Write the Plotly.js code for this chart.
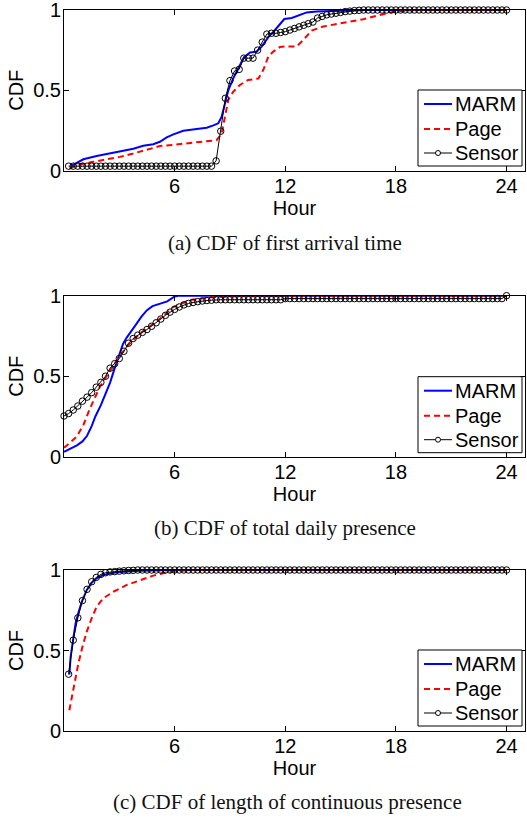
<!DOCTYPE html>
<html>
<head>
<meta charset="utf-8">
<script src="https://cdn.plot.ly/plotly-3.0.1.min.js"></script>
<style>html,body{margin:0;padding:0;background:#fff;}#chart{width:527px;height:821px;}</style>
</head>
<body>
<div id="chart"></div>
<script>
// ---------- data ----------
const seriesNames = ["MARM", "Page", "Sensor"];
const xTickVals = [6, 12, 18, 24];
const yTickVals = [0, 0.5, 1];
const yTickText = ["0", "0.5", "1"];
const captions = ["(a) CDF of first arrival time", "(b) CDF of total daily presence", "(c) CDF of length of continuous presence"];

// sensor sample hours (every 15 minutes)
const sensorHours = [0.25,0.5,0.75,1,1.25,1.5,1.75,2,2.25,2.5,2.75,3,3.25,3.5,3.75,4,4.25,4.5,4.75,5,5.25,5.5,5.75,6,
  6.25,6.5,6.75,7,7.25,7.5,7.75,8,8.25,8.5,8.75,9,9.25,9.5,9.75,10,10.25,10.5,10.75,11,11.25,11.5,11.75,12,
  12.25,12.5,12.75,13,13.25,13.5,13.75,14,14.25,14.5,14.75,15,15.25,15.5,15.75,16,16.25,16.5,16.75,17,17.25,17.5,17.75,18,
  18.25,18.5,18.75,19,19.25,19.5,19.75,20,20.25,20.5,20.75,21,21.25,21.5,21.75,22,22.25,22.5,22.75,23,23.25,23.5,23.75,24];
const sensorHoursB = [0,0.25,0.5,0.75,1,1.25,1.5,1.75,2,2.25,2.5,2.75,3,3.25,3.5,3.75,4,4.25,4.5,4.75,5,5.25,5.5,5.75,6,
  6.25,6.5,6.75,7,7.25,7.5,7.75,8,8.25,8.5,8.75,9,9.25,9.5,9.75,10,10.25,10.5,10.75,11,11.25,11.5,11.75,12,
  12.25,12.5,12.75,13,13.25,13.5,13.75,14,14.25,14.5,14.75,15,15.25,15.5,15.75,16,16.25,16.5,16.75,17,17.25,17.5,17.75,18,
  18.25,18.5,18.75,19,19.25,19.5,19.75,20,20.25,20.5,20.75,21,21.25,21.5,21.75,22,22.25,22.5,22.75,23,23.25,23.5,23.75,24];

// (a) first arrival time
const marmAHours = [0.42,1.05,1.77,2.5,3.22,3.76,4.3,4.84,5.2,5.57,5.93,6.47,7.2,7.74,8.1,8.37,8.55,8.73,8.91,9.18,9.45,9.76,10.09,10.45,10.72,11.08,11.35,11.71,11.95,12.35,12.8,13.16,13.7,14.6,16.4,24];
const marmACdf   = [0.03,0.07,0.09,0.106,0.123,0.135,0.154,0.164,0.179,0.206,0.225,0.248,0.258,0.266,0.281,0.294,0.335,0.419,0.50,0.575,0.637,0.706,0.735,0.741,0.772,0.831,0.863,0.914,0.944,0.95,0.971,0.985,0.991,0.995,1,1];
const pageAHours = [0.29,0.87,1.59,2.31,3.04,3.76,4.48,5.2,5.93,6.65,7.38,8.28,8.55,8.73,8.91,9.18,9.54,9.99,10.54,10.81,11.08,11.35,11.71,11.95,12.62,12.98,13.43,14.06,15.15,16.23,16.96,17.95,19.1,24];
const pageACdf   = [0.012,0.039,0.054,0.069,0.085,0.106,0.131,0.152,0.16,0.169,0.175,0.189,0.231,0.335,0.44,0.491,0.533,0.564,0.573,0.627,0.71,0.741,0.769,0.773,0.773,0.814,0.872,0.897,0.918,0.943,0.964,0.991,1,1];
const sensorACdf = [
  0.027,0.027,0.027,0.027,0.027,0.027,0.027,0.027,
  0.027,0.027,0.027,0.027,0.027,0.027,0.027,0.027,
  0.027,0.027,0.027,0.027,0.027,0.027,0.027,0.027,
  0.027,0.027,0.027,0.027,0.027,0.027,0.027,0.027,
  0.06,0.245,0.45,0.56,0.62,0.63,0.70,0.70,0.70,0.75,
  0.80,0.85,0.855,0.855,0.86,0.865,0.875,0.885,0.895,0.905,
  0.915,0.925,0.95,0.96,0.97,0.975,0.98,0.985,0.99,0.993,
  0.996,0.998,1,1,1,
  1,1,1,1,1,1,1,1,1,1,
  1,1,1,1,1,1,1,1,1,1,
  1,1,1,1,1,1,1,1,1];

// (b) total daily presence
const marmBHours = [0,0.3,0.7,1.0,1.25,1.5,1.7,2.0,2.3,2.5,2.75,3.0,3.2,3.4,3.6,3.9,4.2,4.5,4.8,5.2,5.6,6.0,6.2,24];
const marmBCdf   = [0.03,0.045,0.07,0.095,0.13,0.19,0.25,0.32,0.40,0.46,0.55,0.64,0.70,0.74,0.77,0.82,0.87,0.91,0.935,0.95,0.965,0.995,1,1];
const pageBHours = [0,0.35,0.69,1.05,1.41,1.95,2.31,2.86,3.4,4.12,5.03,5.93,6.83,8,10,24];
const pageBCdf   = [0.055,0.09,0.124,0.197,0.30,0.435,0.497,0.60,0.683,0.766,0.84,0.93,0.973,0.99,1,1];
const sensorBCdf = [
  0.253,0.268,0.29,0.315,0.345,0.37,0.398,0.432,0.462,0.50,0.55,0.578,0.61,0.655,0.705,0.734,0.755,
  0.772,0.79,0.81,0.832,0.855,0.878,0.898,0.915,0.93,0.943,0.952,0.958,0.963,0.967,0.97,0.972,
  0.975,0.975,0.975,0.975,0.975,
  0.975,0.975,0.975,0.975,0.975,
  0.975,0.975,0.975,0.975,0.975,
  0.982,0.982,0.982,0.982,0.982,0.982,0.982,0.982,0.982,0.982,0.982,0.982,
  0.982,0.982,0.982,0.982,0.982,0.982,0.982,0.982,0.982,0.982,0.982,0.982,
  0.982,0.982,0.982,0.982,0.982,0.982,0.982,0.982,0.982,0.982,0.982,0.982,
  0.982,0.982,0.982,0.982,0.982,0.982,0.982,0.982,0.982,0.982,0.982,0.982,
  1];

// (c) length of continuous presence
const marmCHours = [0.29,0.36,0.5,0.63,0.78,0.96,1.23,1.5,1.77,2.13,2.86,4.1,6,24];
const marmCCdf   = [0.35,0.46,0.57,0.67,0.735,0.80,0.875,0.92,0.948,0.97,0.986,0.995,1,1];
const pageCHours = [0.29,0.42,0.6,0.78,1.0,1.23,1.5,1.77,2.13,2.68,3.4,4.12,4.84,5.5,6.2,7,24];
const pageCCdf   = [0.129,0.212,0.315,0.42,0.523,0.616,0.70,0.772,0.824,0.865,0.907,0.938,0.965,0.983,0.995,1,1];
const sensorCCdf = [
  0.353,0.564,0.703,0.81,0.88,0.927,0.954,0.973,0.983,0.988,0.99,0.993,0.995,0.997,0.998,
  1,1,1,1,1,1,1,1,1,
  1,1,1,1,1,1,1,1,1,
  1,1,1,1,1,1,1,1,1,
  1,1,1,1,1,1,1,1,1,
  1,1,1,1,1,1,1,1,1,
  1,1,1,1,1,1,1,1,1,
  1,1,1,1,1,1,1,1,1,
  1,1,1,1,1,1,1,1,1,
  1,1,1,1,1,1,1,1,1];

// ---------- drawing ----------
const SANS = "Liberation Sans, Arial, sans-serif";
const SERIF = "Liberation Serif, Times New Roman, serif";

const panels = [
  {marm:[marmAHours, marmACdf], page:[pageAHours, pageACdf], sensor:[sensorHours, sensorACdf]},
  {marm:[marmBHours, marmBCdf], page:[pageBHours, pageBCdf], sensor:[sensorHoursB, sensorBCdf]},
  {marm:[marmCHours, marmCCdf], page:[pageCHours, pageCCdf], sensor:[sensorHours, sensorCCdf]}
];

// pixel geometry
const W = 527, H = 821, ML = 64, MR = 2, MT = 10, MB = 90;
const PH = H - MT - MB;
const panelPx = [[10, 170.5], [295.7, 456.7], [570, 731]];
const legendBottomPx = [166, 452.7, 726];
const captionPx = [[285, 243], [285, 528], [287, 802]];
const toY = py => (H - MB - py) / PH;
const toX = px => (px - ML) / (W - ML - MR);

const styles = [
  {line: {color: "#0000ff", width: 2}},
  {line: {color: "#ff0000", width: 2, dash: "6px,4px"}},
  {line: {color: "#000", width: 1}}
];

const traces = [];
const shapes = [];
const annotations = [];
const layout = {
  width: W, height: H,
  margin: {l: ML, r: MR, t: MT, b: MB, pad: 0},
  paper_bgcolor: "#fff", plot_bgcolor: "#fff",
  font: {family: SANS, color: "#000"},
  showlegend: false,
  shapes: shapes,
  annotations: annotations
};

function addLegend(bottomPx) {
  const top = bottomPx - 76, left = 418, right = 522;
  shapes.push({type: "rect", xref: "paper", yref: "paper", layer: "above",
    x0: toX(left), x1: toX(right), y0: toY(bottomPx), y1: toY(top),
    line: {color: "#000", width: 1}, fillcolor: "#fff"});
  const rows = [top + 14, top + 39, top + 63];
  rows.forEach((ry, k) => {
    shapes.push({type: "line", xref: "paper", yref: "paper", layer: "above",
      x0: toX(424), x1: toX(452), y0: toY(ry), y1: toY(ry), line: styles[k].line});
    if (k === 2) {
      shapes.push({type: "circle", xref: "paper", yref: "paper", layer: "above",
        x0: toX(435.5), x1: toX(440.5), y0: toY(ry + 2.5), y1: toY(ry - 2.5),
        line: {color: "#000", width: 1}, fillcolor: "#fff"});
    }
    annotations.push({text: seriesNames[k], xref: "paper", yref: "paper",
      x: toX(453), y: toY(ry), xanchor: "left", yanchor: "middle", showarrow: false,
      font: {family: SANS, size: 20, color: "#000"}});
  });
}

panels.forEach((p, i) => {
  const sfx = i === 0 ? "" : String(i + 1);
  const xa = "x" + sfx, ya = "y" + sfx;
  traces.push({x: p.marm[0], y: p.marm[1], name: seriesNames[0], type: "scatter", mode: "lines",
    xaxis: xa, yaxis: ya, line: styles[0].line, cliponaxis: false});
  traces.push({x: p.page[0], y: p.page[1], name: seriesNames[1], type: "scatter", mode: "lines",
    xaxis: xa, yaxis: ya, line: styles[1].line, cliponaxis: false});
  traces.push({x: p.sensor[0], y: p.sensor[1], name: seriesNames[2], type: "scatter", mode: "lines+markers",
    xaxis: xa, yaxis: ya, line: styles[2].line,
    marker: {symbol: "circle-open", size: 6.5, color: "#000", line: {width: 1, color: "#000"}}, cliponaxis: false});

  layout["xaxis" + sfx] = {
    domain: [0, 1], anchor: ya, range: [0, 25],
    tickmode: "array", tickvals: xTickVals,
    ticks: "inside", ticklen: 5, tickcolor: "#000", tickwidth: 1,
    showline: true, linecolor: "#000", linewidth: 1, mirror: "ticks",
    showgrid: false, zeroline: false, ticklabeloverflow: "allow", ticklabelstandoff: -3,
    tickfont: {family: SANS, size: 20, color: "#000"},
    title: {text: "Hour", font: {family: SANS, size: 20, color: "#000"}, standoff: 0}
  };
  layout["yaxis" + sfx] = {
    domain: [toY(panelPx[i][1]), toY(panelPx[i][0])], anchor: xa, range: [0, 1],
    tickmode: "array", tickvals: yTickVals, ticktext: yTickText,
    ticks: "inside", ticklen: 5, tickcolor: "#000", tickwidth: 1,
    showline: true, linecolor: "#000", linewidth: 1, mirror: "ticks",
    showgrid: false, zeroline: false, ticklabeloverflow: "allow", ticklabelstandoff: -2,
    tickfont: {family: SANS, size: 20, color: "#000"},
    title: {text: "CDF", font: {family: SANS, size: 20, color: "#000"}, standoff: 4}
  };
  addLegend(legendBottomPx[i]);
  annotations.push({
    text: captions[i], xref: "paper", yref: "paper",
    x: toX(captionPx[i][0]), y: toY(captionPx[i][1]), xanchor: "center", yanchor: "middle",
    showarrow: false, font: {family: SERIF, size: 21, color: "#111"}
  });
});

Plotly.newPlot("chart", traces, layout, {staticPlot: true, displayModeBar: false});
</script>
</body>
</html>
